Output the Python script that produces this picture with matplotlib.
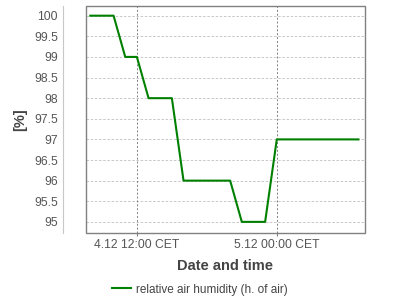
import matplotlib.pyplot as plt
from matplotlib.patches import Rectangle

# --- data: hourly readings, hours relative to 4.12 12:00 CET ---
hours = [-4, -3, -2, -1, 0, 1, 2, 3, 4, 5, 6, 7, 8, 9, 10, 11,
         12, 13, 14, 15, 16, 17, 18, 19]
humidity = [100, 100, 100, 99, 99, 98, 98, 98, 96, 96, 96, 96, 96, 95, 95, 95,
            97, 97, 97, 97, 97, 97, 97, 97]

tick_hours = [0, 12]
tick_labels = ["4.12 12:00 CET", "5.12 00:00 CET"]
y_ticks = [95, 95.5, 96, 96.5, 97, 97.5, 98, 98.5, 99, 99.5, 100]

plt.rcParams['font.family'] = ['Liberation Sans', 'DejaVu Sans']

fig = plt.figure(figsize=(4, 3), dpi=100)
ax = fig.add_axes([0.214, 0.2233, 0.698, 0.7567])

ax.plot(hours, humidity, color='#008000', linewidth=1.5,
        label='relative air humidity (h. of air)')

ax.set_xlim(-4.4, 19.55)
ax.set_ylim(94.73, 100.235)

# grid
for y in y_ticks:
    ax.axhline(y, color='#c0c0c0', linestyle=(0, (3, 2)), linewidth=0.6, zorder=0)
for x in tick_hours:
    ax.axvline(x, color='#808080', linestyle=(0, (2, 2)), linewidth=0.7, zorder=0)

ax.set_yticks(y_ticks)
ax.set_yticklabels([f"{v:g}" for v in y_ticks])
ax.set_xticks(tick_hours)
ax.set_xticklabels(tick_labels)
ax.tick_params(axis='y', length=0, pad=4, labelsize=8.7, labelcolor='#555555')
ax.tick_params(axis='x', length=2, color='#808080', pad=2, labelsize=8.7, labelcolor='#555555')

# frame + offset y axis line
for s in ['top', 'right', 'bottom']:
    ax.spines[s].set_visible(False)
ax.spines['left'].set_position(('outward', 16))
ax.spines['left'].set_color('#c8c8c8')
ax.add_patch(Rectangle((0, 0), 1, 1, transform=ax.transAxes, fill=False,
                       edgecolor='#808080', linewidth=1.0, clip_on=False, zorder=5))

ax.set_xlabel('Date and time', fontsize=10.5, fontweight='bold', color='#444444', labelpad=6)
ax.set_ylabel('[%]', fontsize=10.5, fontweight='bold', color='#444444', labelpad=5)

fig.legend(loc='center', bbox_to_anchor=(0.5, 0.035), frameon=False, fontsize=8.5,
           handlelength=1.6, handletextpad=0.4, labelcolor='#444444')

fig.savefig('out.png', dpi=100)
